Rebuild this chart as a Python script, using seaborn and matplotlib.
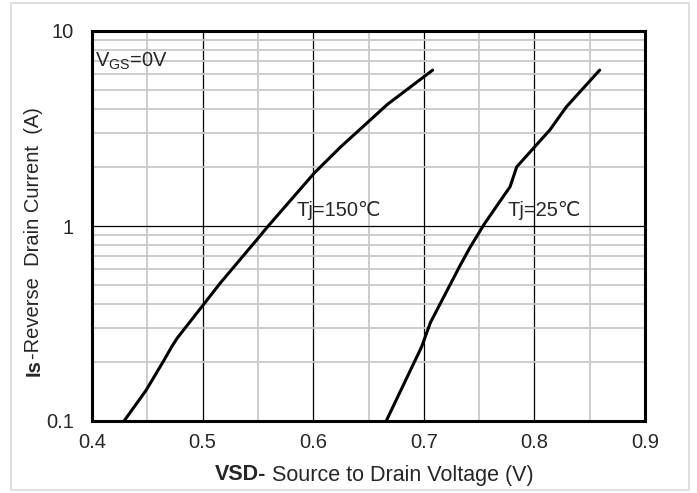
import matplotlib
matplotlib.use("Agg")
import matplotlib.pyplot as plt
import numpy as np
import pandas as pd
import seaborn as sns
from matplotlib.ticker import LogLocator, MultipleLocator, FixedLocator, NullFormatter
from matplotlib.patches import Rectangle

# curves
v_150 = [0.429, 0.449, 0.464, 0.472, 0.477, 0.500, 0.516, 0.549, 0.558, 0.601, 0.625, 0.650, 0.667, 0.708]
i_150 = [0.10, 0.144, 0.20, 0.24, 0.266, 0.39, 0.51, 0.85, 0.98, 1.87, 2.55, 3.43, 4.2, 6.3]
v_25 = [0.666, 0.698, 0.706, 0.733, 0.742, 0.755, 0.778, 0.784, 0.799, 0.814, 0.829, 0.859]
i_25 = [0.10, 0.24, 0.32, 0.63, 0.78, 1.03, 1.59, 2.01, 2.5, 3.11, 4.09, 6.3]
x_ticks = [0.4, 0.5, 0.6, 0.7, 0.8, 0.9]
y_ticks = [0.1, 1, 10]
y_tick_labels = ["0.1", "1", "10"]

df = pd.concat([
    pd.DataFrame({"V": v_150, "I": i_150, "Tj": "150"}),
    pd.DataFrame({"V": v_25, "I": i_25, "Tj": "25"}),
])

sns.set_style("white")
plt.rcParams["font.family"] = ["Liberation Sans", "DejaVu Sans"]
plt.rcParams["mathtext.fontset"] = "custom"
plt.rcParams["mathtext.rm"] = "Liberation Sans"
plt.rcParams["mathtext.it"] = "Liberation Sans"

W, H = 697, 493
fig = plt.figure(figsize=(W / 100, H / 100), dpi=100)
ax = fig.add_axes([92 / W, 1 - 421 / H, (645 - 92) / W, (421 - 31) / H])

# light frame round the whole chart
fig.patches.append(Rectangle((11 / W, 3 / H), 678 / W, 487 / H, transform=fig.transFigure,
                             fill=False, edgecolor="#d9d9d9", lw=1.2))

ax.set_yscale("log")
ax.set_xlim(0.4, 0.9)
ax.set_ylim(0.1, 10)

sns.lineplot(data=df, x="V", y="I", units="Tj", estimator=None, sort=False,
             color="black", lw=2.2, ax=ax, legend=False)

ax.xaxis.set_major_locator(FixedLocator(x_ticks))
ax.xaxis.set_minor_locator(MultipleLocator(0.05))
ax.yaxis.set_major_locator(FixedLocator(y_ticks))
ax.set_yticklabels(y_tick_labels)
ax.yaxis.set_minor_locator(LogLocator(base=10, subs=np.arange(2, 10)))
ax.yaxis.set_minor_formatter(NullFormatter())
ax.set_xticklabels([f"{t:.1f}" for t in x_ticks])

ax.grid(which="minor", color="#c8c8c8", lw=1.3)
ax.grid(which="major", color="black", lw=0.9)
ax.set_axisbelow(True)
ax.tick_params(which="both", length=0, labelsize=14.5)
ax.tick_params(axis="y", pad=13)
ax.tick_params(axis="x", pad=9)
for s in ax.spines.values():
    s.set_visible(True)
    s.set_color("black")
    s.set_linewidth(2.2)
ax.set_xlabel("")
ax.set_ylabel("")

ax.text(0.4025, 7.0, r"V$_{\mathrm{GS}}$=0V", fontsize=14.5, va="center", ha="left")
ax.text(0.5853, 1.2, "Tj=150℃", fontsize=14.5, va="center", ha="left")
ax.text(0.776, 1.2, "Tj=25℃", fontsize=14.5, va="center", ha="left")

# axis titles with a bold lead-in
r = fig.canvas.get_renderer()
xa = fig.text(0, 1 - 480.5 / H, "VSD-", fontsize=15.5, fontweight="bold", va="baseline")
xb = fig.text(0, 1 - 480.5 / H, " Source to Drain Voltage (V)", fontsize=15.5, va="baseline")
wa = xa.get_window_extent(r).width
wb = xb.get_window_extent(r).width
x0 = 374 - (wa + wb) / 2
xa.set_x(x0 / W)
xb.set_x((x0 + wa) / W)

ya = fig.text(34 / W, 0, "Is", fontsize=14.5, fontweight="bold", rotation=90, ha="center", va="bottom")
yb = fig.text(34 / W, 0, "-Reverse  Drain Current  (A)", fontsize=14.5, rotation=90, ha="center", va="bottom")
ha_ = ya.get_window_extent(r).height
hb_ = yb.get_window_extent(r).height
y0 = (H - 241.5) - (ha_ + hb_) / 2
ya.set_y(y0 / H)
yb.set_y((y0 + ha_) / H)

fig.savefig("out.png", dpi=100, facecolor="white")
